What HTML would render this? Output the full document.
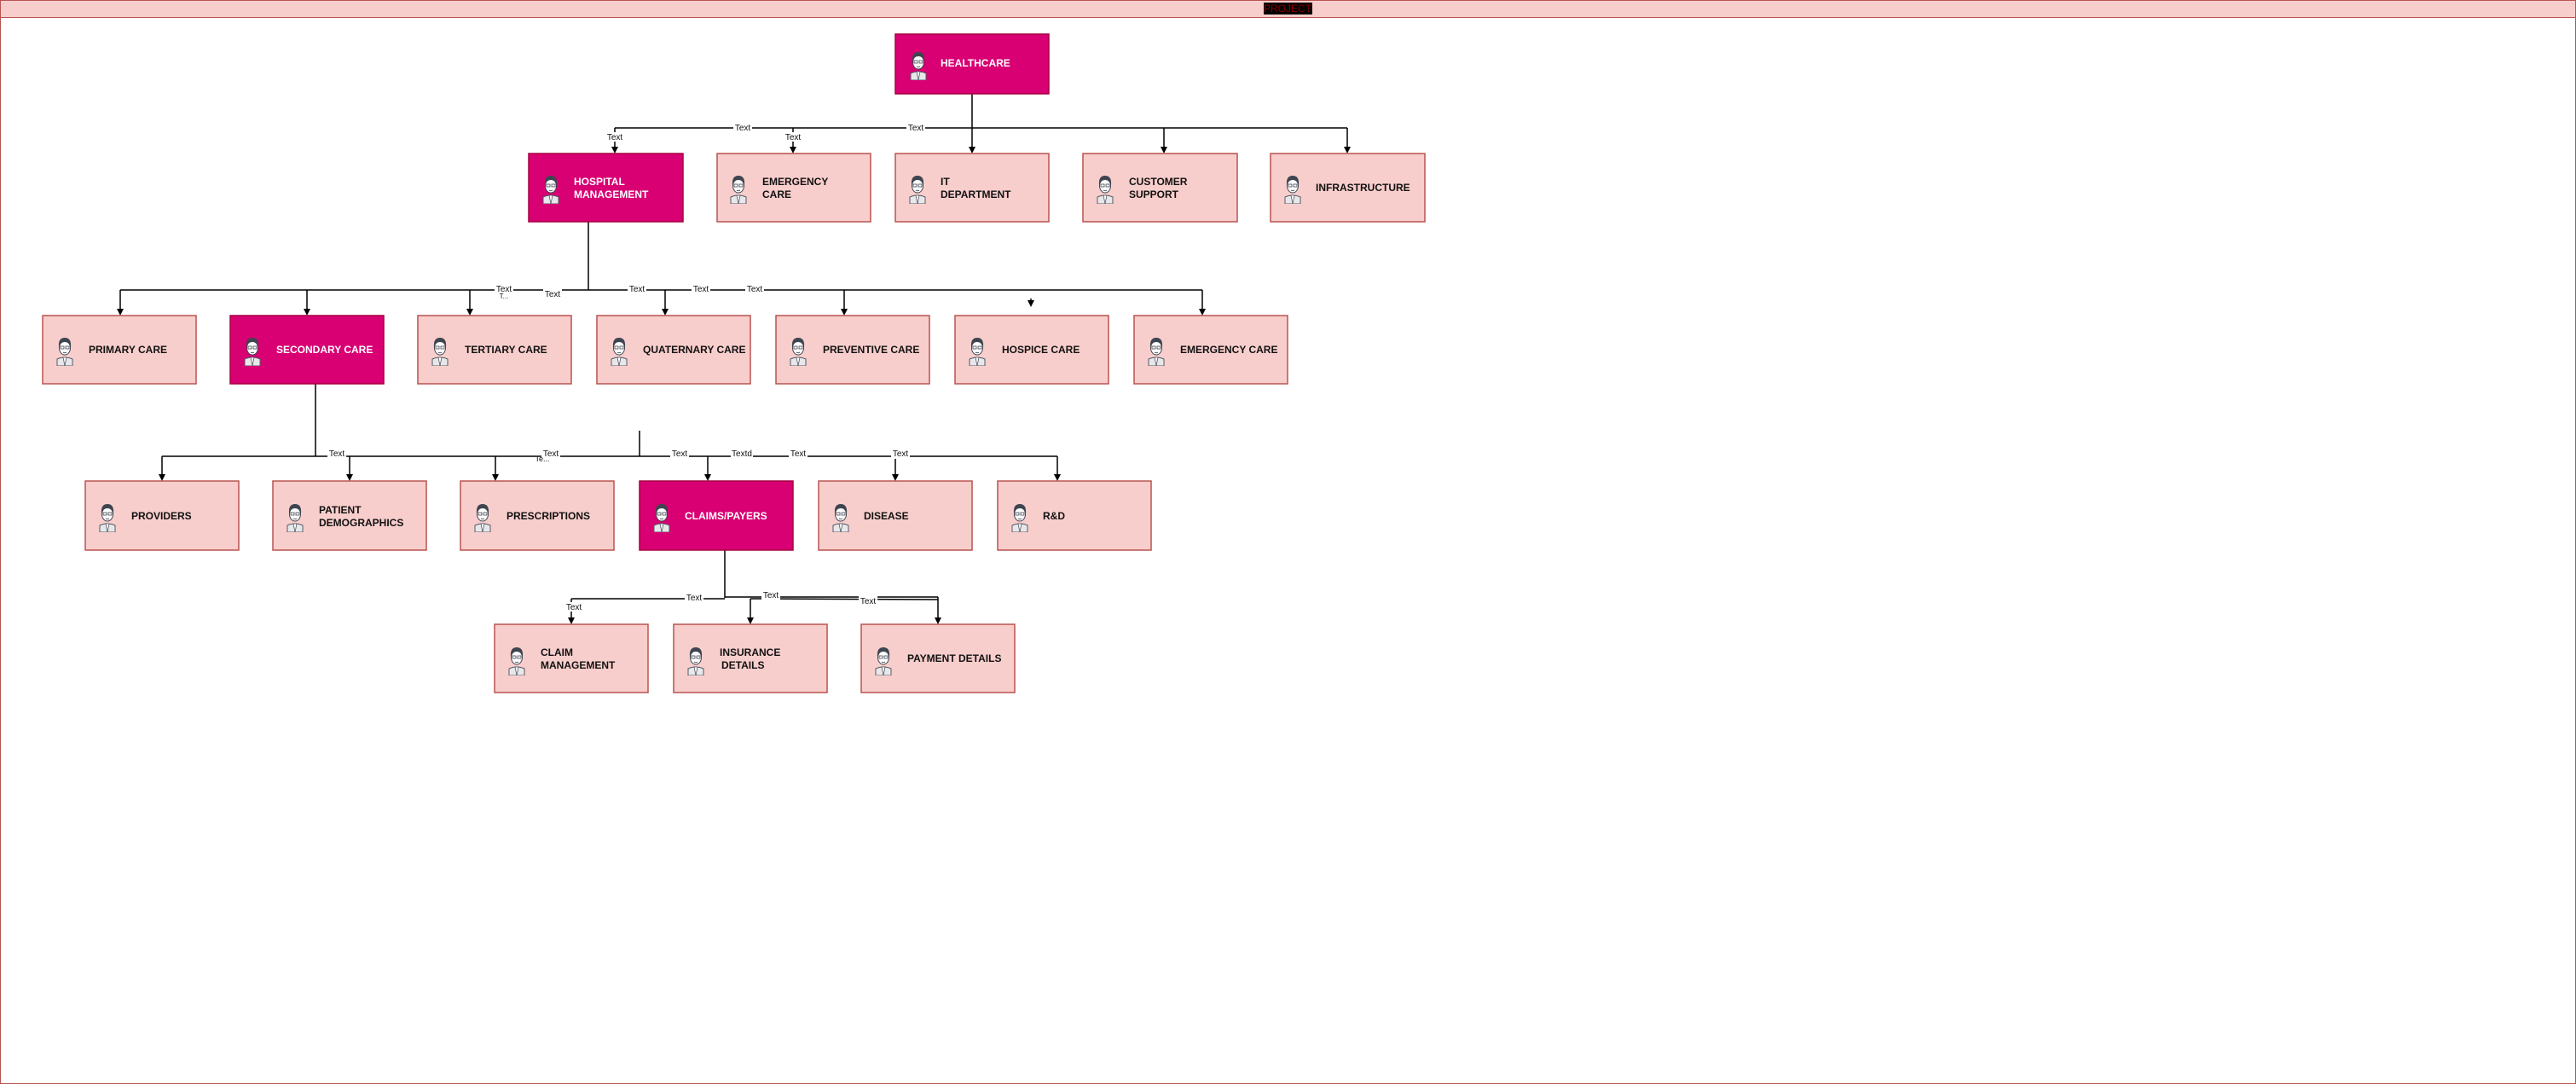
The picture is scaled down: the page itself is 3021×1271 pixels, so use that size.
<!DOCTYPE html>
<html><head><meta charset="utf-8"><style>
html,body{margin:0;padding:0;background:#fff;}
svg{display:block;}
text{font-family:"Liberation Sans",sans-serif;}
.t{font-size:12px;font-weight:bold;fill:#111;}
.tw{font-size:12px;font-weight:bold;fill:#fff;}
.l{font-size:10px;fill:#111;}
</style></head><body>
<svg width="3021" height="1271" viewBox="0 0 3021 1271" xmlns="http://www.w3.org/2000/svg">
<defs>
<symbol id="av" viewBox="0 0 26 36">
<path d="M4 36 L4 28 Q13 24 22 28 L22 36 Z" fill="#e8e8ea" stroke="#555a64" stroke-width="1"/>
<path d="M11 26 L13 36 L15 26 Z" fill="#fff" stroke="#555a64" stroke-width="0.8"/>
<ellipse cx="13" cy="15" rx="6.5" ry="8" fill="#fff" stroke="#3f4550" stroke-width="1"/>
<path d="M6 14 Q5 3 13 3 Q21 3 20 14 Q18 8 13 8 Q8 8 6 14 Z" fill="#3f4550"/>
<rect x="8" y="13" width="4" height="3" fill="none" stroke="#3f4550" stroke-width="0.8"/>
<rect x="14" y="13" width="4" height="3" fill="none" stroke="#3f4550" stroke-width="0.8"/>
<path d="M11 20 Q13 21.5 15 20" fill="none" stroke="#3f4550" stroke-width="0.8"/>
</symbol>
</defs>
<rect x="0.5" y="0.5" width="3020" height="1270" fill="#fff" stroke="#b85450"/>
<rect x="0.5" y="0.5" width="3020" height="20" fill="#f8cecc" stroke="#b85450"/>
<rect x="1482" y="3" width="57" height="14" fill="#000"/>
<text x="1510" y="14" text-anchor="middle" style="font-size:12px;fill:#8b0000">PROJECT</text>

<g stroke="#000" stroke-width="1.5" fill="none">
<!-- level1 -->
<line x1="1140" y1="110" x2="1140" y2="174"/>
<line x1="721" y1="150" x2="1580" y2="150"/>
<line x1="721" y1="150" x2="721" y2="156"/><line x1="721" y1="166" x2="721" y2="174"/>
<line x1="930" y1="150" x2="930" y2="156"/><line x1="930" y1="166" x2="930" y2="174"/>
<line x1="1365" y1="150" x2="1365" y2="174"/>
<line x1="1580" y1="150" x2="1580" y2="174"/>
<!-- level2 -->
<line x1="690" y1="260" x2="690" y2="340"/>
<line x1="141" y1="340" x2="1410" y2="340"/>
<line x1="141" y1="340" x2="141" y2="364"/>
<line x1="360" y1="340" x2="360" y2="364"/>
<line x1="551" y1="340" x2="551" y2="364"/>
<line x1="780" y1="340" x2="780" y2="364"/>
<line x1="990" y1="340" x2="990" y2="364"/>
<line x1="1209" y1="350" x2="1209" y2="352"/>
<line x1="1410" y1="340" x2="1410" y2="364"/>
<!-- level3 -->
<line x1="370" y1="450" x2="370" y2="535"/>
<line x1="750" y1="505" x2="750" y2="535"/>
<line x1="190" y1="535" x2="1240" y2="535"/>
<line x1="190" y1="535" x2="190" y2="558"/>
<line x1="410" y1="535" x2="410" y2="558"/>
<line x1="581" y1="535" x2="581" y2="558"/>
<line x1="830" y1="535" x2="830" y2="558"/>
<line x1="1050" y1="535" x2="1050" y2="558"/>
<line x1="1240" y1="535" x2="1240" y2="558"/>
<!-- level4 -->
<line x1="850" y1="645" x2="850" y2="701"/>
<line x1="670" y1="702" x2="850" y2="702"/>
<line x1="850" y1="700" x2="1100" y2="700"/>
<line x1="880" y1="702" x2="1100" y2="703"/>
<line x1="670" y1="702" x2="670" y2="726"/>
<line x1="880" y1="702" x2="880" y2="726"/>
<line x1="1100" y1="700" x2="1100" y2="726"/>
</g>
<g fill="#000">
<path d="M717 172 L725 172 L721 180 Z"/><path d="M926 172 L934 172 L930 180 Z"/>
<path d="M1136 172 L1144 172 L1140 180 Z"/><path d="M1361 172 L1369 172 L1365 180 Z"/>
<path d="M1576 172 L1584 172 L1580 180 Z"/>
<path d="M137 362 L145 362 L141 370 Z"/><path d="M356 362 L364 362 L360 370 Z"/>
<path d="M547 362 L555 362 L551 370 Z"/><path d="M776 362 L784 362 L780 370 Z"/>
<path d="M986 362 L994 362 L990 370 Z"/><path d="M1205 352 L1213 352 L1209 360 Z"/>
<path d="M1406 362 L1414 362 L1410 370 Z"/>
<path d="M186 556 L194 556 L190 564 Z"/><path d="M406 556 L414 556 L410 564 Z"/>
<path d="M577 556 L585 556 L581 564 Z"/><path d="M826 556 L834 556 L830 564 Z"/>
<path d="M1046 556 L1054 556 L1050 564 Z"/><path d="M1236 556 L1244 556 L1240 564 Z"/>
<path d="M666 724 L674 724 L670 732 Z"/><path d="M876 724 L884 724 L880 732 Z"/>
<path d="M1096 724 L1104 724 L1100 732 Z"/>
</g>
<g class="l">
<g fill="#fff"><rect x="860" y="144" width="22" height="11"/><rect x="1063" y="144" width="22" height="11"/>
<rect x="710" y="155" width="22" height="11"/><rect x="919" y="155" width="22" height="11"/>
<rect x="580" y="334" width="22" height="11"/><rect x="637" y="339" width="22" height="11"/>
<rect x="736" y="334" width="22" height="11"/><rect x="811" y="334" width="22" height="11"/><rect x="874" y="334" width="22" height="11"/>
<rect x="384" y="527" width="22" height="11"/><rect x="635" y="527" width="22" height="11"/><rect x="786" y="527" width="22" height="11"/>
<rect x="857" y="527" width="26" height="11"/><rect x="925" y="527" width="22" height="11"/><rect x="1045" y="527" width="22" height="11"/>
<rect x="803" y="695" width="22" height="11"/><rect x="893" y="692" width="22" height="11"/><rect x="1007" y="699" width="22" height="11"/><rect x="662" y="706" width="22" height="11"/></g>
<text x="871" y="153" text-anchor="middle">Text</text><text x="1074" y="153" text-anchor="middle">Text</text>
<text x="721" y="164" text-anchor="middle">Text</text><text x="930" y="164" text-anchor="middle">Text</text>
<text x="591" y="342" text-anchor="middle">Text</text><text x="591" y="350" text-anchor="middle" style="font-size:8px">T...</text>
<text x="648" y="348" text-anchor="middle">Text</text>
<text x="747" y="342" text-anchor="middle">Text</text><text x="822" y="342" text-anchor="middle">Text</text><text x="885" y="342" text-anchor="middle">Text</text>
<text x="395" y="535" text-anchor="middle">Text</text><text x="646" y="535" text-anchor="middle">Text</text><text x="636" y="541" text-anchor="middle" style="font-size:9px">Te...</text>
<text x="797" y="535" text-anchor="middle">Text</text><text x="870" y="535" text-anchor="middle">Textd</text>
<text x="936" y="535" text-anchor="middle">Text</text><text x="1056" y="535" text-anchor="middle">Text</text>
<text x="814" y="704" text-anchor="middle">Text</text><text x="904" y="701" text-anchor="middle">Text</text>
<text x="1018" y="708" text-anchor="middle">Text</text><text x="673" y="715" text-anchor="middle">Text</text>
</g>

<!-- boxes -->
<g stroke-width="1.5">
<rect x="1050" y="40" width="180" height="70" fill="#d80073" stroke="#a50040"/>
<rect x="620" y="180" width="181" height="80" fill="#d80073" stroke="#a50040"/>
<rect x="841" y="180" width="180" height="80" fill="#f8cecc" stroke="#b85450"/>
<rect x="1050" y="180" width="180" height="80" fill="#f8cecc" stroke="#b85450"/>
<rect x="1270" y="180" width="181" height="80" fill="#f8cecc" stroke="#b85450"/>
<rect x="1490" y="180" width="181" height="80" fill="#f8cecc" stroke="#b85450"/>
<rect x="50" y="370" width="180" height="80" fill="#f8cecc" stroke="#b85450"/>
<rect x="270" y="370" width="180" height="80" fill="#d80073" stroke="#a50040"/>
<rect x="490" y="370" width="180" height="80" fill="#f8cecc" stroke="#b85450"/>
<rect x="700" y="370" width="180" height="80" fill="#f8cecc" stroke="#b85450"/>
<rect x="910" y="370" width="180" height="80" fill="#f8cecc" stroke="#b85450"/>
<rect x="1120" y="370" width="180" height="80" fill="#f8cecc" stroke="#b85450"/>
<rect x="1330" y="370" width="180" height="80" fill="#f8cecc" stroke="#b85450"/>
<rect x="100" y="564" width="180" height="81" fill="#f8cecc" stroke="#b85450"/>
<rect x="320" y="564" width="180" height="81" fill="#f8cecc" stroke="#b85450"/>
<rect x="540" y="564" width="180" height="81" fill="#f8cecc" stroke="#b85450"/>
<rect x="750" y="564" width="180" height="81" fill="#d80073" stroke="#a50040"/>
<rect x="960" y="564" width="180" height="81" fill="#f8cecc" stroke="#b85450"/>
<rect x="1170" y="564" width="180" height="81" fill="#f8cecc" stroke="#b85450"/>
<rect x="580" y="732" width="180" height="80" fill="#f8cecc" stroke="#b85450"/>
<rect x="790" y="732" width="180" height="80" fill="#f8cecc" stroke="#b85450"/>
<rect x="1010" y="732" width="180" height="80" fill="#f8cecc" stroke="#b85450"/>
</g>
<g>
<use href="#av" x="1064" y="58" width="26" height="36"/>
<use href="#av" x="633" y="203" width="26" height="36"/>
<use href="#av" x="853" y="203" width="26" height="36"/>
<use href="#av" x="1063" y="203" width="26" height="36"/>
<use href="#av" x="1283" y="203" width="26" height="36"/>
<use href="#av" x="1503" y="203" width="26" height="36"/>
<use href="#av" x="63" y="393" width="26" height="36"/>
<use href="#av" x="283" y="393" width="26" height="36"/>
<use href="#av" x="503" y="393" width="26" height="36"/>
<use href="#av" x="713" y="393" width="26" height="36"/>
<use href="#av" x="923" y="393" width="26" height="36"/>
<use href="#av" x="1133" y="393" width="26" height="36"/>
<use href="#av" x="1343" y="393" width="26" height="36"/>
<use href="#av" x="113" y="588" width="26" height="36"/>
<use href="#av" x="333" y="588" width="26" height="36"/>
<use href="#av" x="553" y="588" width="26" height="36"/>
<use href="#av" x="763" y="588" width="26" height="36"/>
<use href="#av" x="973" y="588" width="26" height="36"/>
<use href="#av" x="1183" y="588" width="26" height="36"/>
<use href="#av" x="593" y="756" width="26" height="36"/>
<use href="#av" x="803" y="756" width="26" height="36"/>
<use href="#av" x="1023" y="756" width="26" height="36"/>
</g>
<text class="tw" x="1103" y="78">HEALTHCARE</text>
<text class="tw" x="673" y="217">HOSPITAL</text><text class="tw" x="673" y="232">MANAGEMENT</text>
<text class="t" x="894" y="217">EMERGENCY</text><text class="t" x="894" y="232">CARE</text>
<text class="t" x="1103" y="217">IT</text><text class="t" x="1103" y="232">DEPARTMENT</text>
<text class="t" x="1324" y="217">CUSTOMER</text><text class="t" x="1324" y="232">SUPPORT</text>
<text class="t" x="1543" y="224">INFRASTRUCTURE</text>
<text class="t" x="104" y="414">PRIMARY CARE</text>
<text class="tw" x="324" y="414">SECONDARY CARE</text>
<text class="t" x="545" y="414">TERTIARY CARE</text>
<text class="t" x="754" y="414">QUATERNARY CARE</text>
<text class="t" x="965" y="414">PREVENTIVE CARE</text>
<text class="t" x="1175" y="414">HOSPICE CARE</text>
<text class="t" x="1384" y="414">EMERGENCY CARE</text>
<text class="t" x="154" y="609">PROVIDERS</text>
<text class="t" x="374" y="602">PATIENT</text><text class="t" x="374" y="617">DEMOGRAPHICS</text>
<text class="t" x="594" y="609">PRESCRIPTIONS</text>
<text class="tw" x="803" y="609">CLAIMS/PAYERS</text>
<text class="t" x="1013" y="609">DISEASE</text>
<text class="t" x="1223" y="609">R&amp;D</text>
<text class="t" x="634" y="769">CLAIM</text><text class="t" x="634" y="784">MANAGEMENT</text>
<text class="t" x="844" y="769">INSURANCE</text><text class="t" x="846" y="784">DETAILS</text>
<text class="t" x="1064" y="776">PAYMENT DETAILS</text>
</svg>
</body></html>
